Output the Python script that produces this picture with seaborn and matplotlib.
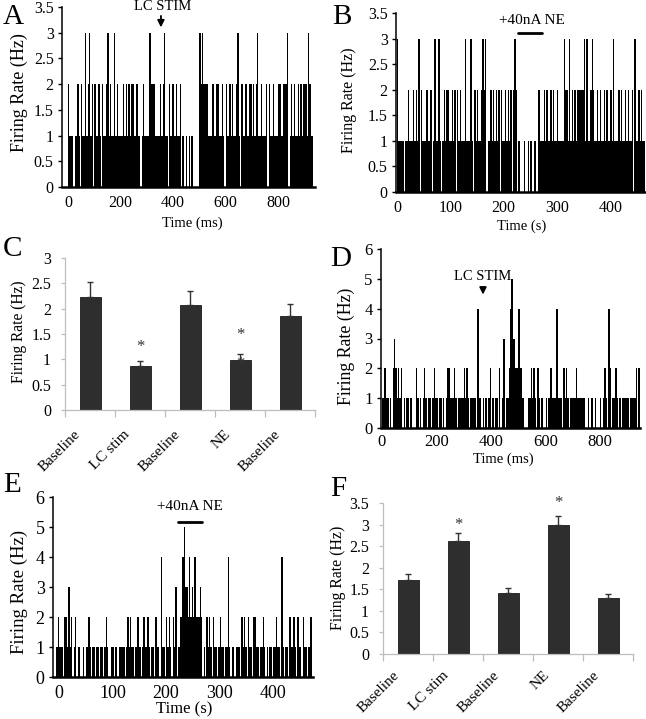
import matplotlib
matplotlib.use("Agg")
import matplotlib.pyplot as plt
import matplotlib.transforms as mtransforms
from matplotlib.ticker import FuncFormatter, MultipleLocator
import numpy as np
import pandas as pd
import seaborn as sns

# ---- spike-count traces: one digit per bin ----
a_start, a_width = 0, 5  # ms
a_counts = (
    "2111011210" "2113123120" "2112102112" "3121131211" "1121212122"
    "1121101211" "1132221111" "2123110212" "2121120100" "1010100000"
    "3232222111" "2112211210" "2112121123" "1021121122" "1212311211"
    "1202112111" "2211222301" "2121121212" "22132110"
)
b_start, b_width = 0, 2.5  # s
b_counts = (
    "3111101121" "1121213021" "1121120131" "1310121221" "1212021211"
    "1311131021" "2112323011" "2121212021" "1212120232" "0100010010"
    "1001002111" "2121121211" "2111132213" "1212122222" "3131123211"
    "2121121211" "2131112121" "1212112031" "121211"
)
d_start, d_width = 0, 5  # ms
d_counts = (
    "1121101023" "2121201011" "0100021010" "1210110121" "1011010122"
    "1112101111" "2121011110" "4110101012" "0101102013" "0112453322"
    "4221000112" "1210210100" "1012211141" "1102121011" "1121111110"
    "0101101000" "1012104201" "1210101111" "1011112020"
)
e_start, e_width = -5, 2.5  # s
e_counts = (
    "1211102213" "1201201100" "1011210110" "1101101210" "0110100111"
    "1012121101" "2210121121" "0110211041" "1021210213" "0122453324"
    "2324222320" "1021210211" "0121101141" "0110111021" "2102110221"
    "1011210101" "1011211041" "0110211210" "2110211012" "20"
)

# ---- mean firing rates (Hz) with upper SEM ----
conditions = ["Baseline", "LC stim", "Baseline", "NE", "Baseline"]
c_rates = [2.24, 0.86, 2.08, 0.98, 1.86]
c_sem = [0.29, 0.11, 0.27, 0.13, 0.24]
c_stars = [(1, 1.25), (3, 1.48), (3, 0.90)]
f_rates = [1.72, 2.61, 1.41, 3.00, 1.29]
f_sem = [0.13, 0.19, 0.11, 0.20, 0.11]
f_stars = [(1, 3.00), (3, 3.51)]

W, H = 646, 719
sns.set_theme(style="ticks", rc={
    "axes.edgecolor": "black", "text.color": "black",
    "xtick.color": "black", "ytick.color": "black",
})
plt.rcParams["font.family"] = ["Liberation Serif", "DejaVu Serif"]

fig = plt.figure(figsize=(W / 100, H / 100), dpi=100)
fmt = FuncFormatter(lambda v, _: f"{v:g}")


def box(left, top, right, bottom):
    return [left / W, 1 - bottom / H, (right - left) / W, (bottom - top) / H]


def ftext(x, y, s, **kw):
    fig.text(x / W, 1 - y / H, s, **kw)


def spike_panel(rect, digits, start, width, xlim, ymax, ystep, xstep, fs, xpad=6):
    ax = fig.add_axes(rect)
    counts = [int(c) for c in digits]
    nbins = len(counts)
    df = pd.DataFrame({"t": start + width * (np.arange(nbins) + 0.5), "n": counts})
    # one filled step outline, so neighbouring bins have no seams
    sns.histplot(data=df, x="t", weights="n", binwidth=width,
                 binrange=(start, start + width * nbins), element="step",
                 fill=True, color="black", alpha=1, linewidth=0, ax=ax)
    ax.set_xlim(*xlim)
    ax.set_ylim(0, ymax)
    ax.xaxis.set_major_locator(MultipleLocator(xstep))
    ax.yaxis.set_major_locator(MultipleLocator(ystep))
    ax.yaxis.set_major_formatter(fmt)
    ax.set_xlabel("")
    ax.set_ylabel("")
    sns.despine(ax=ax)
    ax.spines["left"].set_linewidth(1.1)
    ax.spines["bottom"].set_linewidth(1.8)
    ax.tick_params(axis="y", direction="out", length=3, width=1, pad=3, labelsize=fs)
    ax.tick_params(axis="x", length=0, pad=xpad, labelsize=fs)
    return ax


def bar_panel(rect, rates, sem, stars, ymax, fs, dx, dy):
    ax = fig.add_axes(rect)
    df = pd.DataFrame({"cond": range(len(rates)), "rate": rates})
    sns.barplot(data=df, x="cond", y="rate", width=0.42, color="#2e2e2e",
                saturation=1, edgecolor="#1a1a1a", linewidth=0.6,
                errorbar=None, ax=ax)
    ax.errorbar(df["cond"], rates, yerr=[np.zeros(len(rates)), sem], fmt="none",
                ecolor="#333333", elinewidth=1, capsize=2.5, capthick=1)
    for x, y in stars:
        ax.text(x, y, "*", ha="center", va="center", fontsize=12,
                color="#333333", clip_on=False)
    ax.set_xlim(-0.5, len(rates) - 0.5)
    ax.set_ylim(0, ymax)
    ax.yaxis.set_major_locator(MultipleLocator(0.5))
    ax.yaxis.set_major_formatter(fmt)
    ax.set_xlabel("")
    ax.set_ylabel("")
    sns.despine(ax=ax)
    for s in ("left", "bottom"):
        ax.spines[s].set_color("#bdbdbd")
        ax.spines[s].set_linewidth(0.9)
    ax.set_xticks(range(len(rates)))
    ax.set_xticklabels(conditions, rotation=45, ha="right", va="center",
                       rotation_mode="anchor", fontsize=11)
    ax.set_xticks(np.arange(-0.5, len(rates)), minor=True)
    ax.tick_params(axis="x", which="major", length=0, pad=dy * 0.72)
    ax.tick_params(axis="x", which="minor", length=5, color="#bdbdbd", width=0.9)
    ax.tick_params(axis="y", length=3, color="#bdbdbd", width=0.9, pad=7, labelsize=fs)
    shift = mtransforms.ScaledTranslation(dx / 100, 0, fig.dpi_scale_trans)
    for lab in ax.get_xticklabels():
        lab.set_transform(lab.get_transform() + shift)
    return ax


arrow = dict(arrowstyle="-|>", color="black", lw=1.3, mutation_scale=10)

# A
ax = spike_panel(box(62, 7, 315, 187), a_counts, a_start, a_width,
                 (-23, 941), 3.5, 0.5, 200, 11.5)
ax.text(362, 3.5, "LC STIM", ha="center", va="center", fontsize=10.5, clip_on=False)
ax.annotate("", xy=(354, 3.05), xytext=(354, 3.38), annotation_clip=False,
            arrowprops=arrow)

# B
ax = spike_panel(box(396, 13, 645, 192), b_counts, b_start, b_width,
                 (-2, 465), 3.5, 0.5, 100, 11.5)
ax.text(253, 3.36, "+40nA NE", ha="center", va="center", fontsize=11, clip_on=False)
ax.plot([227, 272], [3.11, 3.11], color="black", lw=2, clip_on=False)

# C
bar_panel(box(65, 258, 315, 410), c_rates, c_sem, c_stars, 3, 11.5, -12, 22)

# D
ax = spike_panel(box(381, 249, 640, 428), d_counts, d_start, d_width,
                 (-2.5, 946), 6, 1, 200, 12, xpad=4)
ax.text(371, 5.08, "LC STIM", ha="center", va="center", fontsize=10.5, clip_on=False)
ax.annotate("", xy=(371, 4.38), xytext=(371, 4.80), annotation_clip=False,
            arrowprops=arrow)

# E
ax = spike_panel(box(53, 497, 313, 677), e_counts, e_start, e_width,
                 (-11, 474), 6, 1, 100, 13)
ax.text(244, 5.69, "+40nA NE", ha="center", va="center", fontsize=11, clip_on=False)
ax.plot([222, 267], [5.18, 5.18], color="black", lw=2, clip_on=False)

# F
bar_panel(box(383, 503, 633, 654), f_rates, f_sem, f_stars, 3.5, 11.5, -11, 19)

# axis titles
ylab = "Firing Rate (Hz)"
for x, y, fs in [(19, 93, 13), (349, 100, 11.5), (19, 332, 11.2),
                 (346, 346, 12.8), (19, 592, 13.5), (338, 578, 11.3)]:
    ftext(x, y, ylab, rotation=90, ha="center", va="center", fontsize=fs)
ftext(192, 223, "Time (ms)", ha="center", va="center", fontsize=10.5)
ftext(522, 226, "Time (s)", ha="center", va="center", fontsize=10.5)
ftext(503, 459, "Time (ms)", ha="center", va="center", fontsize=10.5)
ftext(184, 709, "Time (s)", ha="center", va="center", fontsize=12)

# panel letters
for x, y, s in [(3, 4, "A"), (332, 4, "B"), (3, 236, "C"),
                (330, 246, "D"), (3, 472, "E"), (330, 476, "F")]:
    ftext(x, y, s, ha="left", va="top", fontsize=21)

fig.savefig("out.png", dpi=100)
